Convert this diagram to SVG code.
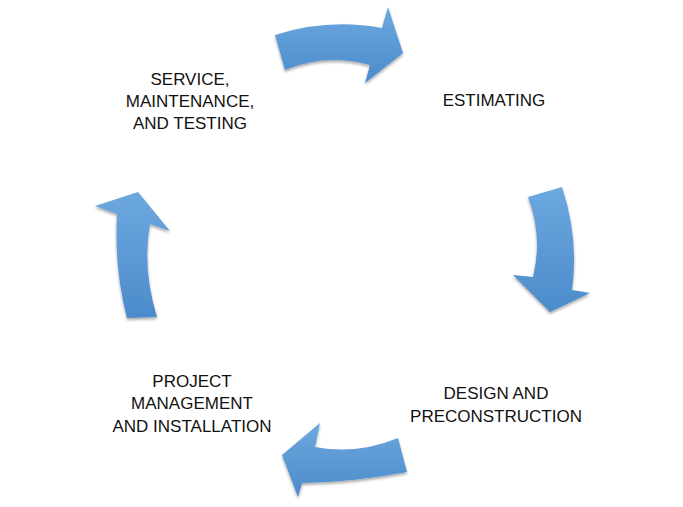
<svg xmlns="http://www.w3.org/2000/svg" width="683" height="507" viewBox="0 0 683 507">
<defs>
<linearGradient id="g" x1="0" y1="0" x2="0" y2="1">
<stop offset="0" stop-color="#6DA8DF"/>
<stop offset="1" stop-color="#4B8BCB"/>
</linearGradient>
<filter id="sh" x="-20%" y="-20%" width="140%" height="140%">
<feGaussianBlur in="SourceAlpha" stdDeviation="1.5"/>
<feOffset dx="0" dy="2" result="b"/>
<feComponentTransfer><feFuncA type="linear" slope="0.35"/></feComponentTransfer>
<feMerge><feMergeNode/><feMergeNode in="SourceGraphic"/></feMerge>
</filter>
</defs>
<style>
.arrow{fill:url(#g);filter:url(#sh)}
.lbl{font-family:"Liberation Sans",Arial,sans-serif;font-size:17px;fill:#111;text-anchor:middle}
</style>
<rect width="683" height="507" fill="#fff"/>
<g id="connectors">
<path class="arrow" d="M275,35 Q327,18 382,28 L388,7 L403,53 L365,83 L370,65 Q327,53 285,70 Z"/>
<path class="arrow" d="M528,197 L562,187 Q579,238 572,290 L590,293 L550,312 L513,275 L533,277 Q543,237 528,197 Z"/>
<path class="arrow" d="M398,438 L407,472 Q355,482 302,483 L298,497 L282,455 L320,423 L315,447 Q357,455 398,438 Z"/>
<path class="arrow" d="M127,318 L157,317 Q142,268 150,224 L170,231 L138,192 L95,206 L117,214 Q114,268 127,318 Z"/>
</g>
<g id="estimating"><text class="lbl" x="494" y="106">ESTIMATING</text></g>
<g id="design"><text class="lbl" x="496" y="399">DESIGN AND</text><text class="lbl" x="496" y="422">PRECONSTRUCTION</text></g>
<g id="project"><text class="lbl" x="192" y="387">PROJECT</text><text class="lbl" x="192" y="409">MANAGEMENT</text><text class="lbl" x="192" y="432">AND INSTALLATION</text></g>
<g id="service"><text class="lbl" x="190" y="85">SERVICE,</text><text class="lbl" x="190" y="107">MAINTENANCE,</text><text class="lbl" x="190" y="129">AND TESTING</text></g>
</svg>
